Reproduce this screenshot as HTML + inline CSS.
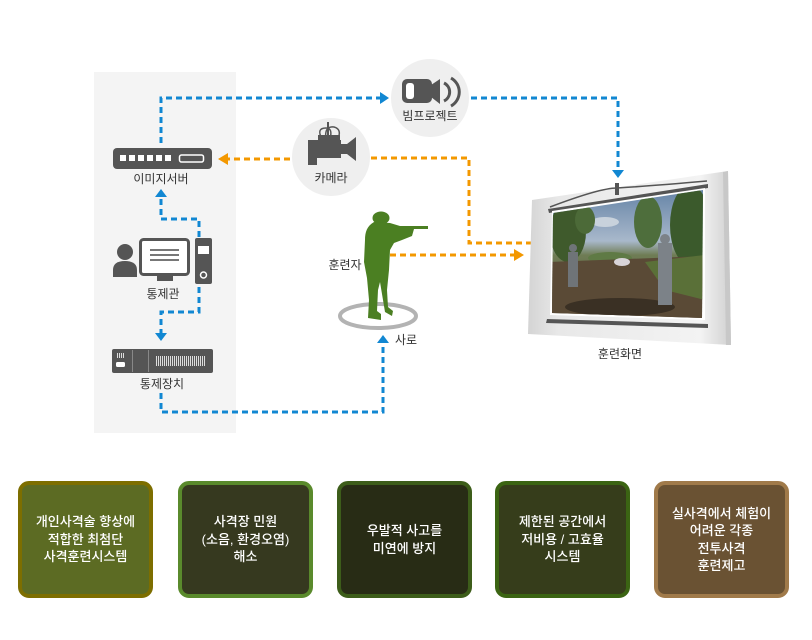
<!DOCTYPE html>
<html><head><meta charset="utf-8">
<style>
html,body{margin:0;padding:0;background:#fff;}
body{width:812px;height:640px;overflow:hidden;position:relative;font-family:"Liberation Sans","Noto Sans CJK KR",sans-serif;}
svg{position:absolute;left:0;top:0;}
.lbl{font-family:"Liberation Sans","Noto Sans CJK KR",sans-serif;font-size:12px;fill:#333;}
.box{position:absolute;top:481px;width:135px;height:117px;box-sizing:border-box;border-radius:11px;border:4px solid;display:flex;align-items:center;justify-content:center;text-align:center;color:#fff;font-family:"Liberation Sans","Noto Sans CJK KR",sans-serif;font-size:13px;line-height:17.5px;font-weight:500;}
</style></head><body>
<svg width="812" height="640" viewBox="0 0 812 640" xmlns="http://www.w3.org/2000/svg">
<defs>
<linearGradient id="panelG" x1="0" y1="0" x2="1" y2="0">
<stop offset="0" stop-color="#d4d4d4"/><stop offset="0.15" stop-color="#e8e8e8"/><stop offset="0.85" stop-color="#f3f3f3"/><stop offset="1" stop-color="#d0d0d0"/>
</linearGradient>
<linearGradient id="skyG" x1="0" y1="0" x2="0" y2="1">
<stop offset="0" stop-color="#5f7fa3"/><stop offset="0.4" stop-color="#a8b8cb"/><stop offset="0.5" stop-color="#6f7d55"/><stop offset="1" stop-color="#4a3e2e"/>
</linearGradient>
<clipPath id="photoClip"><polygon points="553,213 703,190 702,318 552,313"/></clipPath>
<pattern id="grill" width="2" height="10" patternUnits="userSpaceOnUse"><rect width="1" height="10" fill="#ddd"/></pattern>
</defs>

<rect x="94" y="72" width="142" height="361" fill="#f4f4f4"/>

<circle cx="430" cy="98" r="39" fill="#efefef"/>
<circle cx="331" cy="157" r="39" fill="#efefef"/>

<g fill="none" stroke="#1187d2" stroke-width="3" stroke-dasharray="6 4">
<path d="M161,143 V98 H381"/>
<path d="M471,98 H618 V171"/>
<path d="M199,237 V219 H161 V197"/>
<path d="M199,287 V312 H161 V333"/>
<path d="M161,393 V412 H383 V342"/>
</g>
<g fill="#1187d2">
<polygon points="380,92 389,98 380,104"/>
<polygon points="612,170 618,178 624,170"/>
<polygon points="155,197 161,189 167,197"/>
<polygon points="155,333 161,341 167,333"/>
<polygon points="377,343 383,335 389,343"/>
</g>

<g fill="none" stroke="#f39800" stroke-width="3" stroke-dasharray="6 4">
<path d="M290,159 H228"/>
<path d="M371,158 H469 V243 H531"/>
<path d="M390,255 H515"/>
</g>
<g fill="#f39800">
<polygon points="228,153 218,159 228,165"/>
<polygon points="514,249 524,255 514,261"/>
</g>

<rect x="113" y="148" width="99" height="21" rx="4" fill="#555"/>
<g fill="#fff">
<rect x="120" y="155" width="6" height="6"/><rect x="129" y="155" width="6" height="6"/><rect x="138" y="155" width="6" height="6"/>
<rect x="147" y="155" width="6" height="6"/><rect x="156" y="155" width="6" height="6"/><rect x="165" y="155" width="6" height="6"/>
</g>
<rect x="179.5" y="155" width="24" height="7" rx="2" fill="none" stroke="#fff" stroke-width="1.5"/>
<text class="lbl" x="161" y="183" text-anchor="middle">이미지서버</text>

<circle cx="125" cy="252" r="8" fill="#555"/>
<path d="M113,277 V270 Q113,261 125,261 Q137,261 137,270 V277 Z" fill="#555"/>
<rect x="140.5" y="239.5" width="48" height="35" rx="3" fill="#fff" stroke="#555" stroke-width="3"/>
<g fill="#777"><rect x="150" y="249" width="29" height="2"/><rect x="150" y="254" width="29" height="2"/><rect x="150" y="259" width="29" height="2"/></g>
<rect x="157" y="276" width="16" height="5" fill="#555"/>
<rect x="195" y="238" width="17" height="46" rx="2" fill="#555"/>
<rect x="198" y="246" width="11" height="8" fill="#fff"/>
<circle cx="203.5" cy="275" r="3" fill="none" stroke="#fff" stroke-width="1.5"/>
<text class="lbl" x="163" y="298" text-anchor="middle">통제관</text>

<rect x="112" y="349" width="101" height="24" rx="2" fill="#555"/>
<g fill="#ddd"><rect x="117" y="353" width="1" height="5"/><rect x="119" y="353" width="1" height="5"/><rect x="121" y="353" width="1" height="5"/><rect x="123" y="353" width="1" height="5"/></g>
<rect x="116" y="362" width="9" height="5" rx="1.5" fill="#fff"/>
<rect x="132" y="350" width="1" height="22" fill="#888"/>
<rect x="148" y="350" width="1" height="22" fill="#888"/>
<rect x="155" y="356" width="50" height="10" fill="url(#grill)"/>
<text class="lbl" x="162" y="388" text-anchor="middle">통제장치</text>

<rect x="402" y="79" width="30" height="24" rx="5" fill="#555"/>
<rect x="406" y="83" width="8" height="16" rx="3" fill="#fff"/>
<polygon points="431,85 440,79 440,104 431,97" fill="#555"/>
<path d="M444,83 A10,10 0 0 1 444,101" fill="none" stroke="#555" stroke-width="3"/>
<path d="M451,78 A16,16 0 0 1 451,106" fill="none" stroke="#555" stroke-width="3"/>
<text class="lbl" x="430" y="120" text-anchor="middle">빔프로젝트</text>

<path d="M328,122 V139" stroke="#555" stroke-width="2"/>
<path d="M322,139 Q316,128 326,128 Q333,128 330,139" fill="none" stroke="#555" stroke-width="1.5"/>
<path d="M326,139 Q324,126 334,127 Q342,129 338,139" fill="none" stroke="#555" stroke-width="1.5"/>
<rect x="318" y="135" width="22" height="6" fill="#555"/>
<rect x="308" y="140" width="33" height="18" fill="#555"/>
<polygon points="340,144 347,144 356,137 356,161 347,154 340,154" fill="#555"/>
<rect x="308" y="157" width="9" height="8" fill="#555"/>
<text class="lbl" x="331" y="182" text-anchor="middle">카메라</text>

<ellipse cx="378" cy="316" rx="38" ry="12" fill="none" stroke="#b3b3b3" stroke-width="4"/>

<g fill="#4b7f22">
<ellipse cx="381" cy="218" rx="8.5" ry="6.5"/>
<path d="M374,222 C367,226 365,232 365,240 L364,262 L367,278 L369,300 L368,318 L381,320 L381,314 L377,311 L378,290 L380,282 L383,300 L385,312 L392,316 L393,311 L388,307 L387,290 L389,270 L390,250 L394,243 L402,240 L412,236 L414,229 L400,226 L390,223 Z"/>
<rect x="394" y="226" width="34" height="3"/>
<rect x="398" y="228" width="4" height="8"/>
</g>
<text class="lbl" x="345" y="269" text-anchor="middle">훈련자</text>
<text class="lbl" x="406" y="344" text-anchor="middle">사로</text>

<polygon points="532,200 728,171 731,345 528,334" fill="url(#panelG)"/>
<polygon points="728,171 731,345 726,345 723,172" fill="#c8c8c8"/>
<path d="M550,207 Q600,188 617,188 Q650,186 707,181" fill="none" stroke="#555" stroke-width="1.5"/>
<rect x="615" y="183" width="4" height="12" fill="#555"/>
<polygon points="548,209 708,184 708,188 549,213" fill="#555"/>
<polygon points="552,211 705,188 705,320 550,315" fill="#fff"/>
<g clip-path="url(#photoClip)">
<rect x="545" y="185" width="165" height="140" fill="url(#skyG)"/>
<ellipse cx="605" cy="222" rx="14" ry="5" fill="#c8d2dc"/>
<ellipse cx="568" cy="232" rx="18" ry="30" fill="#3f5a2c"/>
<ellipse cx="585" cy="220" rx="10" ry="14" fill="#4c6a38"/>
<ellipse cx="648" cy="222" rx="14" ry="26" fill="#4e6e3c"/>
<ellipse cx="690" cy="225" rx="20" ry="40" fill="#3b5a2c"/>
<ellipse cx="610" cy="258" rx="22" ry="6" fill="#5f7a45"/>
<polygon points="550,262 705,256 705,325 550,325" fill="#5a4a36"/>
<polygon points="645,262 705,255 705,300 665,290" fill="#5a7038"/>
<ellipse cx="620" cy="307" rx="55" ry="9" fill="#3a3024"/>
<ellipse cx="622" cy="262" rx="8" ry="4" fill="#d8d4d8"/>
<rect x="568" y="252" width="10" height="35" fill="#6f7478"/>
<circle cx="573" cy="248" r="4" fill="#6f7478"/>
<rect x="658" y="243" width="14" height="62" fill="#7c8288"/>
<circle cx="665" cy="239" r="5" fill="#7c8288"/>
</g>
<polygon points="547,319 708,324 708,328 546,323" fill="#555"/>
<text class="lbl" x="620" y="358" text-anchor="middle">훈련화면</text>
</svg>

<div class="box" style="left:18px;background:#5c6b23;border-color:#7d6e00;">개인사격술 향상에<br>적합한 최첨단<br>사격훈련시스템</div>
<div class="box" style="left:178px;background:#36391f;border-color:#5a8a2c;">사격장 민원<br>(소음, 환경오염)<br>해소</div>
<div class="box" style="left:337px;background:#282c15;border-color:#3d5d1a;">우발적 사고를<br>미연에 방지</div>
<div class="box" style="left:495px;background:#363d1b;border-color:#3b6413;">제한된 공간에서<br>저비용 / 고효율<br>시스템</div>
<div class="box" style="left:654px;background:#6a5233;border-color:#a07a4a;">실사격에서 체험이<br>어려운 각종<br>전투사격<br>훈련제고</div>
</body></html>
